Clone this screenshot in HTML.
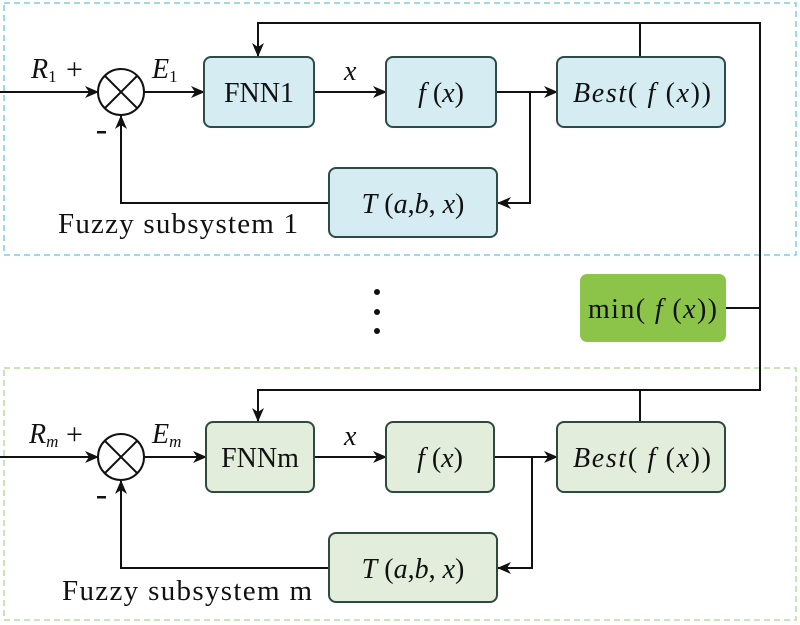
<!DOCTYPE html>
<html><head><meta charset="utf-8"><style>
html,body{margin:0;padding:0;background:#fff;}
svg{display:block;}
text{font-family:"Liberation Serif",serif;fill:#111;}
.i{font-style:italic;}
</style></head><body>
<svg width="800" height="625" viewBox="0 0 800 625" xmlns="http://www.w3.org/2000/svg">
<defs>
<marker id="a" markerWidth="14" markerHeight="12" refX="13" refY="6" orient="auto" markerUnits="userSpaceOnUse">
<path d="M0,0 L14,6 L0,12 L4,6 Z" fill="#111"/></marker>
</defs>
<rect x="4" y="3" width="792" height="252" fill="none" stroke="#7ccbe8" stroke-width="1.5" stroke-dasharray="6,4"/>
<rect x="4" y="368" width="792" height="252" fill="none" stroke="#b8dca4" stroke-width="1.5" stroke-dasharray="6,4"/>

<g stroke="#111" stroke-width="2" fill="none">
<polyline points="760,390 760,23 258,23 258,56" marker-end="url(#a)"/>
<line x1="640" y1="23" x2="640" y2="57"/>
<line x1="726" y1="308" x2="760" y2="308"/>
<line x1="0" y1="92" x2="98" y2="92" marker-end="url(#a)"/>
<line x1="144" y1="92" x2="204" y2="92" marker-end="url(#a)"/>
<line x1="314" y1="92" x2="386" y2="92" marker-end="url(#a)"/>
<line x1="496" y1="92" x2="557" y2="92" marker-end="url(#a)"/>
<polyline points="530,92 530,203 498,203" marker-end="url(#a)"/>
<polyline points="329,203 121,203 121,116" marker-end="url(#a)"/>
<polyline points="760,388 760,390 258,390 258,421" marker-end="url(#a)"/>
<line x1="640" y1="390" x2="640" y2="422"/>
<line x1="0" y1="457" x2="98" y2="457" marker-end="url(#a)"/>
<line x1="144" y1="457" x2="206" y2="457" marker-end="url(#a)"/>
<line x1="314" y1="457" x2="386" y2="457" marker-end="url(#a)"/>
<line x1="494" y1="457" x2="557" y2="457" marker-end="url(#a)"/>
<polyline points="532,457 532,568 498,568" marker-end="url(#a)"/>
<polyline points="329,568 121,568 121,481" marker-end="url(#a)"/>
</g>

<g stroke="#111" stroke-width="2" fill="#fff">
<circle cx="121" cy="92" r="23"/>
<circle cx="121" cy="457" r="23"/>
</g>
<g stroke="#111" stroke-width="2">
<line x1="105" y1="76" x2="137" y2="108"/><line x1="137" y1="76" x2="105" y2="108"/>
<line x1="105" y1="441" x2="137" y2="473"/><line x1="137" y1="441" x2="105" y2="473"/>
</g>

<g fill="#d5ecf2" stroke="#2d4b4b" stroke-width="2">
<rect x="204" y="57" width="110" height="70" rx="7"/>
<rect x="386" y="57" width="110" height="70" rx="7"/>
<rect x="557" y="57" width="168" height="70" rx="7"/>
<rect x="329" y="168" width="168" height="69" rx="7"/>
</g>
<g fill="#e2eedb" stroke="#2d4b3b" stroke-width="2">
<rect x="206" y="422" width="108" height="70" rx="7"/>
<rect x="386" y="422" width="108" height="70" rx="7"/>
<rect x="557" y="422" width="168" height="70" rx="7"/>
<rect x="329" y="533" width="168" height="69" rx="7"/>
</g>
<rect x="580" y="274" width="146" height="68" rx="7" fill="#8cc44a"/>

<circle cx="377" cy="292" r="3" fill="#111"/>
<circle cx="377" cy="312" r="3" fill="#111"/>
<circle cx="377" cy="331" r="3" fill="#111"/>

<rect x="97" y="131" width="9" height="2.5" fill="#111"/>
<rect x="97" y="496" width="9" height="2.5" fill="#111"/>

<g font-size="28">
<text x="31" y="78" class="i">R<tspan font-size="17" dy="4" font-style="normal">1</tspan></text>
<text x="66" y="79" font-size="30">+</text>
<text x="152" y="78" class="i">E<tspan font-size="17" dy="4" font-style="normal">1</tspan></text>
<text x="344" y="80" class="i">x</text>
<text x="259" y="102" text-anchor="middle">FNN1</text>
<text x="441" y="102" text-anchor="middle"><tspan class="i">f</tspan> (<tspan class="i">x</tspan>)</text>
<text x="573" y="102" textLength="138" font-size="28"><tspan class="i">Best</tspan>( <tspan class="i">f</tspan> (<tspan class="i">x</tspan>))</text>
<text x="413" y="213" text-anchor="middle"><tspan class="i">T</tspan> (<tspan class="i">a</tspan>,<tspan class="i">b</tspan>, <tspan class="i">x</tspan>)</text>
<text x="58" y="233" font-size="29" textLength="240">Fuzzy subsystem 1</text>
<text x="588" y="318" textLength="129" font-size="28">min( <tspan class="i">f</tspan> (<tspan class="i">x</tspan>))</text>

<text x="29" y="443" class="i">R<tspan font-size="17" dy="4">m</tspan></text>
<text x="66" y="444" font-size="30">+</text>
<text x="152" y="443" class="i">E<tspan font-size="17" dy="4">m</tspan></text>
<text x="344" y="445" class="i">x</text>
<text x="260" y="467" text-anchor="middle">FNNm</text>
<text x="440" y="467" text-anchor="middle"><tspan class="i">f</tspan> (<tspan class="i">x</tspan>)</text>
<text x="573" y="467" textLength="138" font-size="28"><tspan class="i">Best</tspan>( <tspan class="i">f</tspan> (<tspan class="i">x</tspan>))</text>
<text x="413" y="578" text-anchor="middle"><tspan class="i">T</tspan> (<tspan class="i">a</tspan>,<tspan class="i">b</tspan>, <tspan class="i">x</tspan>)</text>
<text x="62" y="600" font-size="29" textLength="250">Fuzzy subsystem m</text>
</g>
</svg>
</body></html>
